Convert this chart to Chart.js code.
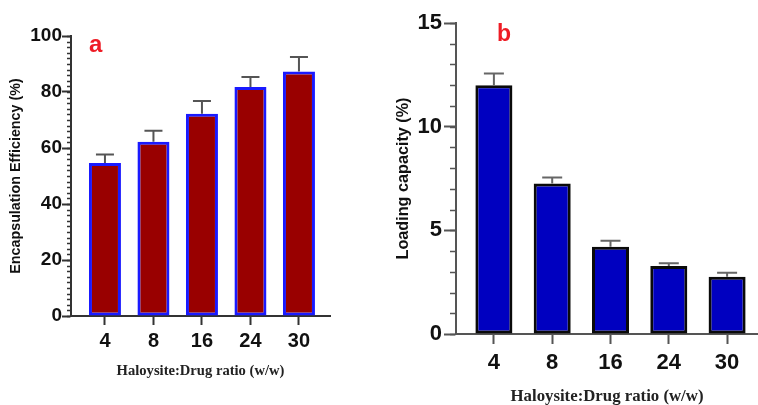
<!DOCTYPE html>
<html>
<head>
<meta charset="utf-8">
<script src="https://cdn.jsdelivr.net/npm/chart.js@4.4.0/dist/chart.umd.min.js"></script>
<style>
  body { margin: 0; background: #fff; width: 758px; height: 405px; position: relative; overflow: hidden; }
  .box { position: absolute; top: 0; height: 405px; }
  #boxA { left: 0; width: 340px; }
  #boxB { left: 380px; width: 378px; }
  .tag { position: absolute; color: #ee1c25; font-family: "Liberation Sans", Arial, sans-serif; font-weight: bold; line-height: 1; }
</style>
</head>
<body>
<div class="box" id="boxA"><canvas id="chartA"></canvas></div>
<div class="box" id="boxB"><canvas id="chartB"></canvas></div>
<div class="tag" style="left:89px;top:32px;font-size:24px">a</div>
<div class="tag" style="left:497px;top:22px;font-size:23px">b</div>
<script>
// data
const categories = ['4', '8', '16', '24', '30'];
const efficiency = [54.6, 62.2, 72.2, 81.8, 87.3];
const efficiencyErr = [3.1, 4.0, 4.6, 3.6, 5.2];
const loading = [12.0, 7.26, 4.21, 3.28, 2.76];
const loadingErr = [0.56, 0.29, 0.29, 0.13, 0.19];
const efficiencyTicks = [0, 20, 40, 60, 80, 100];
const loadingTicks = [0, 5, 10, 15];

// error bars (upper only, with cap)
const errorBarPlugin = {
    id: 'errorBars',
    afterDatasetsDraw(chart, args, opts) {
        const ctx = chart.ctx;
        const y = chart.scales.y;
        chart.data.datasets.forEach((ds, di) => {
            chart.getDatasetMeta(di).data.forEach((bar, i) => {
                const top = y.getPixelForValue(ds.data[i].y + ds.errors[i]);
                ctx.save();
                ctx.strokeStyle = opts.color;
                ctx.lineWidth = opts.width;
                ctx.beginPath();
                ctx.moveTo(bar.x, bar.y);
                ctx.lineTo(bar.x, top);
                ctx.moveTo(bar.x - opts.cap / 2, top);
                ctx.lineTo(bar.x + opts.cap / 2, top);
                ctx.stroke();
                ctx.restore();
            });
        });
    }
};

// minor ticks on the y axis
const minorTickPlugin = {
    id: 'minorTicks',
    afterDraw(chart, args, opts) {
        const ctx = chart.ctx;
        const y = chart.scales.y;
        const x0 = chart.chartArea.left;
        const n = Math.round((y.max - y.min) / opts.step);
        ctx.save();
        ctx.strokeStyle = opts.color;
        ctx.lineWidth = opts.width;
        ctx.beginPath();
        for (let k = 0; k <= n; k++) {
            const p = Math.round(y.getPixelForValue(y.min + k * opts.step)) + 0.5;
            ctx.moveTo(x0, p);
            ctx.lineTo(x0 - opts.length, p);
        }
        ctx.stroke();
        ctx.restore();
    }
};

function makeChart(id, c) {
    return new Chart(document.getElementById(id), {
        type: 'bar',
        data: {
            datasets: [{
                data: c.values.map((v, i) => ({ x: i, y: v })),
                errors: c.errors,
                backgroundColor: c.fill,
                borderColor: c.border,
                borderWidth: c.borderWidth,
                borderSkipped: false,
                barPercentage: c.barPct,
                categoryPercentage: 1
            }]
        },
        options: {
            responsive: true,
            maintainAspectRatio: false,
            animation: false,
            layout: { padding: { left: 0, right: c.padRight, top: c.top, bottom: 0 } },
            plugins: {
                legend: { display: false },
                tooltip: { enabled: false },
                errorBars: { color: c.errColor, width: 2, cap: c.cap },
                minorTicks: { step: c.minorStep, length: c.minorLen, color: c.axisColor, width: 1.5 }
            },
            scales: {
                x: {
                    type: 'linear',
                    offset: false,
                    min: c.xMin,
                    max: c.xMax,
                    afterBuildTicks: s => { s.ticks = categories.map((_, i) => ({ value: i })); },
                    afterFit: s => { s.height = c.xHeight; },
                    grid: { offset: false, drawOnChartArea: false, drawTicks: true, tickLength: c.xTickLen, tickColor: c.axisColor, tickWidth: 2 },
                    border: { color: c.axisColor, width: 2 },
                    ticks: {
                        callback: v => categories[v],
                        autoSkip: false, maxRotation: 0, padding: c.xTickPad,
                        color: '#111',
                        font: { family: '"Liberation Sans", Arial', weight: 'bold', size: c.xFont }
                    },
                    title: {
                        display: true,
                        text: 'Haloysite:Drug ratio (w/w)',
                        color: '#222',
                        font: { family: '"Liberation Serif", "Times New Roman"', weight: 'bold', size: c.xTitleFont, lineHeight: 1 },
                        padding: { top: 0, bottom: c.xTitlePad }
                    }
                },
                y: {
                    min: 0,
                    max: c.yMax,
                    afterBuildTicks: s => { s.ticks = c.yTicks.map(v => ({ value: v })); },
                    afterFit: s => { s.width = c.yWidth; },
                    grid: { drawOnChartArea: false, drawTicks: true, tickLength: c.yTickLen, tickColor: c.axisColor, tickWidth: 2 },
                    border: { color: c.axisColor, width: 2 },
                    ticks: {
                        padding: c.yTickPad,
                        color: '#111',
                        font: { family: '"Liberation Sans", Arial', weight: 'bold', size: c.yFont }
                    },
                    title: {
                        display: true,
                        text: c.yTitle,
                        color: '#111',
                        font: { family: '"Liberation Sans", Arial', weight: 'bold', size: c.yTitleFont, lineHeight: 1 },
                        padding: { top: c.yTitlePad, bottom: 0 }
                    }
                }
            }
        },
        plugins: [errorBarPlugin, minorTickPlugin]
    });
}

makeChart('chartA', {
    values: efficiency, errors: efficiencyErr,
    fill: '#990000', border: '#1a1aff', borderWidth: 3, barPct: 0.66,
    errColor: '#555', cap: 18, axisColor: '#333',
    padRight: 10, top: 36, xMin: -0.7, xMax: 4.64, xHeight: 89,
    xTickLen: 9, xTickPad: 4, xFont: 20, xTitleFont: 14.6, xTitlePad: 26,
    yMax: 100, yTicks: efficiencyTicks, yWidth: 71, yTickLen: 9, yTickPad: 0, yFont: 19,
    yTitle: 'Encapsulation Efficiency (%)', yTitleFont: 14.3, yTitlePad: 9,
    minorStep: 2, minorLen: 4
});

makeChart('chartB', {
    values: loading, errors: loadingErr,
    fill: '#0000c0', border: '#0a0a0a', borderWidth: 3, barPct: 0.635,
    errColor: '#666', cap: 20, axisColor: '#555',
    padRight: 0, top: 23, xMin: -0.65, xMax: 4.53, xHeight: 71,
    xTickLen: 10, xTickPad: 6, xFont: 22, xTitleFont: 16.8, xTitlePad: 0,
    yMax: 15, yTicks: loadingTicks, yWidth: 76, yTickLen: 12, yTickPad: 2, yFont: 22,
    yTitle: 'Loading capacity (%)', yTitleFont: 16.2, yTitlePad: 15,
    minorStep: 1, minorLen: 6
});
</script>
</body>
</html>
